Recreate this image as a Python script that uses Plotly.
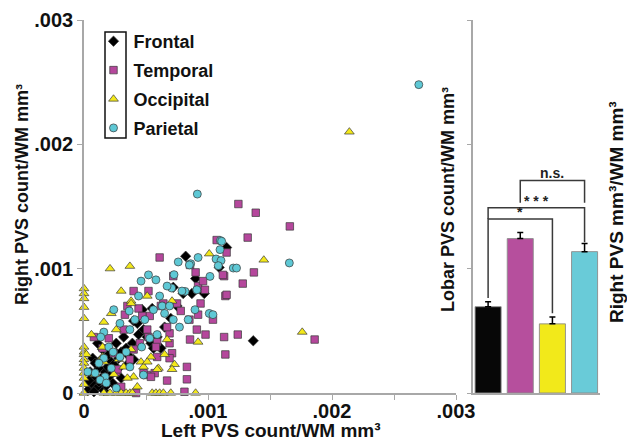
import plotly.graph_objects as go

W, H = 627, 443
FONT = "Liberation Sans, Arial, sans-serif"
AXIS_GREY = "#a8a8a8"

LOBES = ["Frontal", "Temporal", "Occipital", "Parietal"]

FRONTAL_X = [0.07e-3, 0.05e-3, 0.08e-3, 0.05e-3, 0.11e-3, 0.12e-3, 0.15e-3, 0.17e-3, 0.19e-3, 0.22e-3,
             0.20e-3, 0.26e-3, 0.30e-3, 0.34e-3, 0.39e-3, 0.40e-3, 0.43e-3, 0.48e-3, 0.51e-3, 0.54e-3,
             0.56e-3, 0.40e-3, 0.35e-3, 0.27e-3, 0.24e-3, 0.12e-3, 0.09e-3, 0.15e-3, 0.11e-3, 0.30e-3,
             0.23e-3, 0.16e-3, 0.03e-3, 0.26e-3, 0.32e-3, 0.59e-3, 0.65e-3, 0.70e-3, 0.47e-3, 0.62e-3,
             0.82e-3, 1.15e-3, 1.09e-3, 0.97e-3, 0.87e-3, 0.80e-3, 1.365e-3, 0.75e-3, 0.90e-3, 0.72e-3,
             0.55e-3, 0.08e-3, 0.06e-3, 0.14e-3, 0.21e-3, 0.18e-3, 0.28e-3, 0.36e-3, 0.44e-3, 0.04e-3]
FRONTAL_Y = [0.28e-3, 0.17e-3, 0.12e-3, 0.05e-3, 0.05e-3, 0.09e-3, 0.13e-3, 0.17e-3, 0.21e-3, 0.25e-3,
             0.31e-3, 0.32e-3, 0.33e-3, 0.36e-3, 0.40e-3, 0.58e-3, 0.56e-3, 0.51e-3, 0.45e-3, 0.40e-3,
             0.36e-3, 0.27e-3, 0.23e-3, 0.19e-3, 0.23e-3, 0.20e-3, 0.24e-3, 0.35e-3, 0.40e-3, 0.12e-3,
             0.08e-3, 0.02e-3, 0.02e-3, 0.40e-3, 0.45e-3, 0.45e-3, 0.53e-3, 0.60e-3, 0.67e-3, 0.36e-3,
             1.10e-3, 1.17e-3, 1.01e-3, 0.80e-3, 0.80e-3, 0.80e-3, 0.42e-3, 0.70e-3, 0.92e-3, 0.85e-3,
             0.68e-3, 0.01e-3, 0.08e-3, 0.27e-3, 0.14e-3, 0.06e-3, 0.28e-3, 0.30e-3, 0.47e-3, 0.10e-3]

TEMPORAL_X = [1.66e-3, 1.32e-3, 1.245e-3, 1.385e-3, 1.07e-3, 1.15e-3, 1.13e-3, 1.14e-3, 1.28e-3, 1.37e-3,
              1.24e-3, 1.13e-3, 1.14e-3, 1.86e-3, 0.98e-3, 1.04e-3, 0.83e-3, 0.83e-3, 0.81e-3, 0.42e-3,
              0.08e-3, 0.61e-3, 0.40e-3, 0.52e-3, 0.75e-3, 0.90e-3, 0.92e-3, 0.94e-3, 0.85e-3, 0.92e-3,
              0.69e-3, 0.59e-3, 0.45e-3, 0.51e-3, 0.32e-3, 0.33e-3, 0.44e-3, 0.53e-3, 0.64e-3, 0.72e-3,
              0.855e-3, 0.975e-3, 0.26e-3, 0.505e-3, 0.59e-3, 0.37e-3, 0.24e-3, 0.40e-3, 0.57e-3, 0.67e-3,
              1.15e-3, 0.855e-3, 0.71e-3, 0.91e-3, 0.62e-3, 0.47e-3, 0.67e-3, 0.52e-3, 0.58e-3, 0.69e-3,
              0.30e-3, 0.54e-3, 0.48e-3, 0.27e-3, 0.69e-3, 1.12e-3, 0.78e-3, 0.96e-3, 0.35e-3, 0.20e-3,
              0.15e-3]
TEMPORAL_Y = [1.34e-3, 1.25e-3, 1.52e-3, 1.45e-3, 1.23e-3, 1.13e-3, 0.94e-3, 0.78e-3, 0.88e-3, 0.97e-3,
              0.47e-3, 0.45e-3, 0.31e-3, 0.43e-3, 0.47e-3, 0.59e-3, 0.21e-3, 0.11e-3, 0.01e-3, 0.00e-3,
              0.45e-3, 1.09e-3, 0.82e-3, 0.82e-3, 0.72e-3, 0.97e-3, 0.86e-3, 0.72e-3, 0.59e-3, 0.63e-3,
              0.48e-3, 0.41e-3, 0.40e-3, 0.51e-3, 0.51e-3, 0.63e-3, 0.68e-3, 0.62e-3, 0.72e-3, 0.94e-3,
              1.03e-3, 0.83e-3, 0.17e-3, 0.145e-3, 0.29e-3, 0.27e-3, 0.32e-3, 0.35e-3, 0.16e-3, 0.10e-3,
              0.79e-3, 0.43e-3, 0.32e-3, 0.51e-3, 0.70e-3, 0.62e-3, 0.53e-3, 0.45e-3, 0.37e-3, 0.28e-3,
              0.05e-3, 0.13e-3, 0.16e-3, 0.19e-3, 0.40e-3, 0.95e-3, 0.66e-3, 0.90e-3, 0.70e-3, 0.44e-3,
              0.36e-3]

OCCIPITAL_X = [0, 0, 0, 0, 0, 0, 0, 0, 0, 0,
               0, 0, 0, 0, 0, 0.16e-3, 0.21e-3, 0.26e-3, 0.30e-3, 0.34e-3,
               0.37e-3, 0.39e-3, 0.55e-3, 0.58e-3, 0.61e-3, 0.64e-3, 0.70e-3, 0.90e-3, 0.21e-3, 0.37e-3,
               0.30e-3, 0.38e-3, 0.22e-3, 0.16e-3, 0.06e-3, 1.01e-3, 1.45e-3, 1.76e-3, 0.92e-3, 0.73e-3,
               2.14e-3, 0.26e-3, 0.38e-3, 0.51e-3, 0.71e-3, 0.02e-3, 0.15e-3, 0.16e-3, 0.28e-3, 0.32e-3,
               0.46e-3, 0.48e-3, 0.54e-3, 0.65e-3, 0.60e-3, 0.71e-3, 0.09e-3, 0.24e-3, 0.40e-3, 0.35e-3,
               0.43e-3, 0.15e-3, 0.38e-3, 0.67e-3, 0.51e-3, 0.59e-3]
OCCIPITAL_Y = [0.84e-3, 0.80e-3, 0.76e-3, 0.69e-3, 0.60e-3, 0.37e-3, 0.33e-3, 0.31e-3, 0.27e-3, 0.24e-3,
               0.20e-3, 0.16e-3, 0.12e-3, 0.07e-3, 0.00e-3, 0, 0, 0, 0, 0,
               0, 0, 0, 0, 0, 0, 0, 0, 1.00e-3, 1.02e-3,
               0.82e-3, 0.74e-3, 0.64e-3, 0.57e-3, 0.47e-3, 1.12e-3, 1.07e-3, 0.49e-3, 0.41e-3, 0.23e-3,
               2.10e-3, 0.51e-3, 0.72e-3, 0.78e-3, 0.74e-3, 0.31e-3, 0.29e-3, 0.25e-3, 0.27e-3, 0.21e-3,
               0.25e-3, 0.21e-3, 0.29e-3, 0.31e-3, 0.20e-3, 0.19e-3, 0.15e-3, 0.15e-3, 0.13e-3, 0.12e-3,
               0.05e-3, 0.37e-3, 0.35e-3, 0.43e-3, 0.25e-3, 0.19e-3]

PARIETAL_X = [2.70e-3, 0.914e-3, 1.656e-3, 1.10e-3, 1.097e-3, 1.065e-3, 1.105e-3, 1.083e-3, 1.204e-3, 0.76e-3,
              0.86e-3, 0.92e-3, 1.016e-3, 0.726e-3, 0.815e-3, 0.909e-3, 0.707e-3, 1.11e-3, 1.23e-3, 0.85e-3,
              0.46e-3, 0.58e-3, 0.52e-3, 0.67e-3, 0.91e-3, 1.01e-3, 1.04e-3, 0.79e-3, 0.63e-3, 0.84e-3,
              0.77e-3, 0.59e-3, 0.56e-3, 0.44e-3, 0.365e-3, 0.24e-3, 0.29e-3, 0.41e-3, 0.49e-3, 0.37e-3,
              0.16e-3, 0.135e-3, 0.53e-3, 0.465e-3, 0.34e-3, 0.20e-3, 0.16e-3, 0.12e-3, 0.09e-3, 0.03e-3,
              0.26e-3, 0.48e-3, 0.37e-3, 0.29e-3, 0.235e-3, 0.17e-3, 0.22e-3, 0.13e-3, 0.18e-3, 0.61e-3,
              0.69e-3, 0.895e-3, 0.72e-3, 0.65e-3]
PARIETAL_Y = [2.48e-3, 1.60e-3, 1.046e-3, 1.226e-3, 1.153e-3, 1.078e-3, 1.065e-3, 1.024e-3, 1.005e-3, 1.054e-3,
              1.04e-3, 1.09e-3, 0.938e-3, 0.952e-3, 0.817e-3, 0.83e-3, 0.844e-3, 1.22e-3, 1.005e-3, 1.03e-3,
              0.90e-3, 0.91e-3, 0.95e-3, 0.86e-3, 0.83e-3, 0.64e-3, 0.63e-3, 0.82e-3, 0.70e-3, 0.59e-3,
              0.53e-3, 0.47e-3, 0.67e-3, 0.78e-3, 0.66e-3, 0.67e-3, 0.56e-3, 0.59e-3, 0.59e-3, 0.51e-3,
              0.49e-3, 0.45e-3, 0.44e-3, 0.37e-3, 0.33e-3, 0.37e-3, 0.28e-3, 0.24e-3, 0.16e-3, 0.17e-3,
              0.04e-3, 0.145e-3, 0.21e-3, 0.29e-3, 0.33e-3, 0.13e-3, 0.20e-3, 0.105e-3, 0.08e-3, 0.78e-3,
              0.70e-3, 0.67e-3, 0.59e-3, 0.64e-3]

BAR_MEANS = [0.694e-3, 1.242e-3, 0.556e-3, 1.137e-3]
BAR_SEM = [0.040e-3, 0.048e-3, 0.056e-3, 0.065e-3]

AXIS_TICKVALS = [0, 0.001, 0.002, 0.003]
AXIS_TICKTEXT = ["0", ".001", ".002", ".003"]
X_MINOR_TICKS = [0.0005, 0.0015, 0.0025]

# (left bar, right bar, label, bracket height)
BRACKETS = [(0, 2, "*", 1.40e-3), (0, 3, "* * *", 1.49e-3), (1, 3, "n.s.", 1.71e-3)]

SCATTER_FILL = ["#000000", "#b5479c", "#f3e81a", "#5ec8d5"]
SCATTER_SYMBOL = ["diamond", "square", "triangle-up", "circle"]
SCATTER_SIZE = [8, 7.5, 8.5, 8]
BAR_FILL = ["#070707", "#b64f9d", "#f2e91a", "#69cbd8"]


def px(x):
    """page pixel x -> paper fraction"""
    return x / W


def py(y):
    """page pixel y (from top) -> paper fraction"""
    return 1 - y / H


fig = go.Figure()

xs = [FRONTAL_X, TEMPORAL_X, OCCIPITAL_X, PARIETAL_X]
ys = [FRONTAL_Y, TEMPORAL_Y, OCCIPITAL_Y, PARIETAL_Y]
for i, name in enumerate(LOBES):
    fig.add_trace(go.Scatter(
        x=xs[i], y=ys[i], mode="markers", name=name, legendgroup=name,
        cliponaxis=False,
        marker=dict(symbol=SCATTER_SYMBOL[i], size=SCATTER_SIZE[i], color=SCATTER_FILL[i],
                    line=dict(color="#3a3a3a", width=0.7)),
        xaxis="x", yaxis="y",
    ))

fig.add_trace(go.Bar(
    x=[0, 1, 2, 3], y=BAR_MEANS, width=0.81, showlegend=False,
    marker=dict(color=BAR_FILL, line=dict(color="rgba(140,140,140,0.9)", width=1)),
    error_y=dict(type="data", array=BAR_SEM, symmetric=False, arrayminus=[0, 0, 0, 0],
                 color="#000000", thickness=1.5, width=3),
    xaxis="x2", yaxis="y2",
))

shapes = []
annotations = []
tops = [m + s for m, s in zip(BAR_MEANS, BAR_SEM)]
gap = 0.03e-3
# "*" bracket
l, r, lab, h = BRACKETS[0]
shapes.append(dict(type="path", xref="x2", yref="y2",
                   path=f"M {l},{tops[l] + gap} L {l},{h} L {r},{h} L {r},{tops[r] + gap}",
                   line=dict(color="#3a3a3a", width=1.5)))
# "***" bracket (left leg joins the "*" bracket)
l2, r2, lab2, h2 = BRACKETS[1]
shapes.append(dict(type="path", xref="x2", yref="y2",
                   path=f"M {l2},{h} L {l2},{h2} L {r2},{h2} L {r2},{tops[r2] + 0.01e-3}",
                   line=dict(color="#3a3a3a", width=1.5)))
# "n.s." bracket
l3, r3, lab3, h3 = BRACKETS[2]
leg = 0.18e-3
shapes.append(dict(type="path", xref="x2", yref="y2",
                   path=f"M {l3},{h3 - leg} L {l3},{h3} L {r3},{h3} L {r3},{h3 - leg}",
                   line=dict(color="#3a3a3a", width=1.5)))
for (l_, r_, lab_, h_) in BRACKETS:
    annotations.append(dict(x=(l_ + r_) / 2, y=h_, xref="x2", yref="y2", text=lab_,
                            showarrow=False, xanchor="center", yanchor="bottom", yshift=-3,
                            font=dict(family=FONT, size=14, color="#222", weight="bold")))

# legend symbol frame
shapes.append(dict(type="rect", xref="paper", yref="paper",
                   x0=px(105), x1=px(126), y0=py(138), y1=py(32),
                   line=dict(color="#111", width=1.5)))

title_font = dict(family=FONT, size=18, color="#111", weight="bold")
title_font19 = dict(family=FONT, size=19, color="#111", weight="bold")
common = dict(xref="paper", yref="paper", showarrow=False, xanchor="center", yanchor="middle")
annotations += [
    dict(text="Right PVS count/WM mm³", x=px(22), y=py(195), textangle=-90,
         font=title_font, **common),
    dict(text="Left PVS count/WM mm³", x=px(271), y=py(430),
         font=title_font19, **common),
    dict(text="Lobar PVS count/WM mm³", x=px(448), y=py(200), textangle=-90,
         font=title_font, **common),
    dict(text="Right PVS mm³/WM mm³", x=px(616), y=py(212), textangle=-90,
         font=title_font19, **common),
]

tick_font = dict(family=FONT, size=20, color="#111", weight="bold")
y_dom = [py(393), py(20)]

fig.update_layout(
    width=W, height=H,
    margin=dict(l=0, r=0, t=0, b=0, pad=0, autoexpand=False),
    paper_bgcolor="white", plot_bgcolor="white",
    showlegend=True,
    legend=dict(x=px(93.5), y=py(23), xanchor="left", yanchor="top",
                bgcolor="rgba(0,0,0,0)", borderwidth=0, tracegroupgap=2.5,
                font=dict(family=FONT, size=18, color="#111", weight="bold"),
                itemsizing="trace"),
    xaxis=dict(domain=[px(84), px(456)], range=[0, 0.003], anchor="y", automargin=False,
               tickvals=AXIS_TICKVALS, ticktext=AXIS_TICKTEXT, tickfont=tick_font,
               ticks="outside", ticklen=5, tickcolor=AXIS_GREY, tickwidth=1.2,
               ticklabelstandoff=-6,
               minor=dict(tickvals=X_MINOR_TICKS, ticks="outside", ticklen=5,
                          tickcolor=AXIS_GREY, tickwidth=1.2),
               showline=True, linecolor=AXIS_GREY, linewidth=1.5,
               showgrid=False, zeroline=False),
    yaxis=dict(domain=y_dom, range=[0, 0.003], anchor="x", automargin=False,
               tickvals=AXIS_TICKVALS, ticktext=AXIS_TICKTEXT, tickfont=tick_font,
               ticks="outside", ticklen=5, tickcolor=AXIS_GREY, tickwidth=1.2,
               showline=True, linecolor=AXIS_GREY, linewidth=1.5,
               showgrid=False, zeroline=False),
    xaxis2=dict(domain=[px(473), px(600)], range=[-0.47, 3.48], anchor="y2", automargin=False,
                showticklabels=False, ticks="", showline=True, linecolor=AXIS_GREY,
                linewidth=1.5, showgrid=False, zeroline=False),
    yaxis2=dict(domain=y_dom, range=[0, 0.003], anchor="x2", automargin=False,
                tickvals=AXIS_TICKVALS, showticklabels=False,
                ticks="outside", ticklen=4, tickcolor=AXIS_GREY, tickwidth=1.2,
                showline=True, linecolor=AXIS_GREY, linewidth=1.5,
                showgrid=False, zeroline=False),
    shapes=shapes,
    annotations=annotations,
)

# remove the host page's default body margin so the 627x443 figure fills the window exactly
fig.write_html("out.html",
               config={"displayModeBar": False},
               post_script="document.body.style.margin='0px';document.body.style.overflow='hidden';")
